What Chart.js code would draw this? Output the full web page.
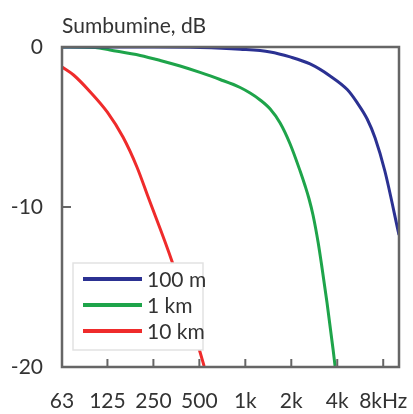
<!DOCTYPE html>
<html>
<head>
<meta charset="utf-8">
<script src="https://cdn.jsdelivr.net/npm/chart.js@4.4.1/dist/chart.umd.min.js"></script>
<style>
  html, body { margin: 0; padding: 0; background: #fff; }
  #wrap { width: 413px; height: 414px; }
</style>
</head>
<body>
<div id="wrap"><canvas id="myChart" width="413" height="414"></canvas></div>
<script>
// Octave band ticks (Hz) and their labels
const bandHz = [63, 125, 250, 500, 1000, 2000, 4000, 8000];
const bandLabels = ['63', '125', '250', '500', '1k', '2k', '4k', '8kHz'];
const yTicks = [0, -10, -20];

// 100 m
const freq100m = [63, 250, 505, 925, 1455, 1965, 2655, 3590, 4650, 5400, 6280, 7080, 8200, 10150];
const db100m = [0, 0, -0.03, -0.14, -0.31, -0.62, -1.06, -1.81, -2.66, -3.48, -4.5, -5.69, -7.75, -11.75];
// 1 km
const freq1km = [63, 104, 130, 205, 277, 374, 505, 683, 925, 1075, 1250, 1455, 1690, 1965, 2285, 2465,
  2615, 2775, 2995, 3180, 3430, 3760, 3870];
const db1km = [0, -0.03, -0.19, -0.53, -0.84, -1.19, -1.59, -2.03, -2.53, -2.88, -3.31, -3.88, -4.75, -6.06,
  -7.75, -8.69, -9.5, -10.5, -12.19, -13.81, -16, -18.94, -19.94];
// 10 km
const freq10km = [63, 75, 96.5, 124.5, 158, 195, 231, 332, 505, 537];
const db10km = [-1.25, -1.75, -2.81, -4.06, -5.63, -7.5, -9.38, -13.44, -19.06, -19.94];

const palette = {
  blue: '#2b3192',
  green: '#1ea44a',
  red: '#ef2b2b',
  frame: '#666666',
  text: '#333333',
};
const fontFamily = 'Lato, "Open Sans", sans-serif';

const toPoints = (xs, ys) => xs.map((x, i) => ({ x: x, y: ys[i] }));

// Frame, inward tick marks, title and legend box
const decorPlugin = {
  id: 'decor',
  afterDatasetsDraw(chart) {
    const { ctx, chartArea: a, scales } = chart;
    ctx.save();
    ctx.strokeStyle = palette.frame;
    ctx.lineWidth = 2.5;
    ctx.strokeRect(a.left, a.top, a.right - a.left, a.bottom - a.top);

    ctx.lineWidth = 2;
    bandHz.slice(1).forEach((f) => {
      const px = scales.x.getPixelForValue(f);
      ctx.beginPath();
      ctx.moveTo(px, a.bottom);
      ctx.lineTo(px, a.bottom - 8);
      ctx.stroke();
    });
    const py = scales.y.getPixelForValue(-10);
    ctx.beginPath();
    ctx.moveTo(a.left, py);
    ctx.lineTo(a.left + 9, py);
    ctx.stroke();

    // Title
    ctx.fillStyle = palette.text;
    ctx.font = `21px ${fontFamily}`;
    ctx.textAlign = 'left';
    ctx.textBaseline = 'alphabetic';
    ctx.fillText('Sumbumine, dB', a.left, 33);

    // Legend
    const lx = a.left + 11, ly = 263, lw = 130, lh = 87;
    ctx.fillStyle = '#ffffff';
    ctx.fillRect(lx, ly, lw, lh);
    ctx.strokeStyle = '#e2e2e2';
    ctx.lineWidth = 1.5;
    ctx.strokeRect(lx, ly, lw, lh);
    ctx.font = `21px ${fontFamily}`;
    ctx.textBaseline = 'middle';
    chart.data.datasets.forEach((ds, i) => {
      const ry = ly + 16 + i * 26;
      ctx.strokeStyle = ds.borderColor;
      ctx.lineWidth = 4;
      ctx.beginPath();
      ctx.moveTo(lx + 10, ry);
      ctx.lineTo(lx + 69, ry);
      ctx.stroke();
      ctx.fillStyle = palette.text;
      ctx.fillText(ds.label, lx + 74, ry + 1);
    });
    ctx.restore();
  },
};

const ctx = document.getElementById('myChart').getContext('2d');
const myChart = new Chart(ctx, {
  type: 'line',
  data: {
    datasets: [
      { label: '100 m', data: toPoints(freq100m, db100m), borderColor: palette.blue },
      { label: '1 km', data: toPoints(freq1km, db1km), borderColor: palette.green },
      { label: '10 km', data: toPoints(freq10km, db10km), borderColor: palette.red },
    ],
  },
  options: {
    responsive: false,
    animation: false,
    devicePixelRatio: 1,
    layout: { padding: { top: 47, right: 14, left: 0, bottom: 0 } },
    elements: {
      line: { borderWidth: 3, cubicInterpolationMode: 'monotone' },
      point: { radius: 0 },
    },
    scales: {
      x: {
        type: 'logarithmic',
        min: 63,
        max: 10150,
        afterBuildTicks: (scale) => {
          scale.ticks = bandHz.map((v) => ({ value: v }));
        },
        afterFit: (scale) => {
          scale.height = 47;
          scale.paddingLeft = 0;
          scale.paddingRight = 0;
        },
        grid: { display: false, drawTicks: false },
        border: { display: false },
        ticks: {
          autoSkip: false,
          maxRotation: 0,
          padding: 22,
          color: palette.text,
          font: { family: fontFamily, size: 21 },
          callback: (value) => {
            const i = bandHz.indexOf(value);
            return i >= 0 ? bandLabels[i] : '';
          },
        },
      },
      y: {
        min: -20,
        max: 0,
        afterBuildTicks: (scale) => {
          scale.ticks = yTicks.map((v) => ({ value: v }));
        },
        afterFit: (scale) => {
          scale.width = 62;
          scale.paddingTop = 0;
          scale.paddingBottom = 0;
        },
        grid: { display: false, drawTicks: false },
        border: { display: false },
        ticks: {
          padding: 19,
          color: palette.text,
          font: { family: fontFamily, size: 21 },
        },
      },
    },
    plugins: {
      legend: { display: false },
      tooltip: { enabled: false },
    },
  },
  plugins: [decorPlugin],
});
</script>
</body>
</html>
